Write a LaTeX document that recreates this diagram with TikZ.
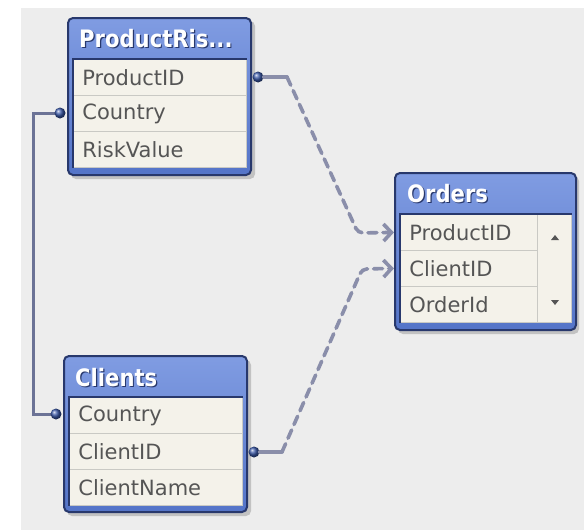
\documentclass[tikz,border=0pt]{standalone}
\usepackage{fontspec}
\setmainfont{DejaVu Sans}
\usepackage{graphicx}
\usetikzlibrary{arrows.meta}

\definecolor{hdrtop}{HTML}{809CE2}
\definecolor{hdrbot}{HTML}{5474C8}
\definecolor{frame}{HTML}{28386C}
\definecolor{rowbg}{HTML}{F4F2EA}
\definecolor{rowline}{HTML}{C9C9C4}
\definecolor{rowtext}{HTML}{555555}
\definecolor{link}{HTML}{8A8EAA}
\definecolor{join}{HTML}{6C7396}
\definecolor{dotblue}{HTML}{3A58A8}
\definecolor{canvas}{HTML}{EDEDED}

\newcommand{\hdrtxt}[1]{\scalebox{0.88}[1]{\makebox[0pt][l]{\hspace{1.4pt}\raisebox{-1.4pt}{\color{frame}#1}}#1}}

\tikzset{
  tblshadow/.style={fill=black,opacity=.18,rounded corners=5pt},
  tblframe/.style={draw=frame,line width=2pt,rounded corners=5pt,
                   top color=hdrtop,bottom color=hdrbot},
  hdr/.style={anchor=west,inner sep=0pt,text=white,
              font=\fontsize{24}{24}\selectfont\bfseries},
  row/.style={anchor=north west,draw=rowline,line width=.8pt,fill=rowbg,
              text=rowtext,inner xsep=9pt,inner ysep=0pt,
              minimum height=36pt,align=left,
              font=\fontsize{21}{21}\selectfont},
  dot/.style={circle,inner sep=0pt,minimum size=11pt,ball color=dotblue},
  link/.style={draw=link,line width=3.6pt,line cap=round},
  linkto/.style={link,dash pattern=on 9pt off 6pt,
                 -{Straight Barb[length=8pt,width=17pt]}},
}

\begin{document}
\begin{tikzpicture}[x=1pt,y=-1pt]
  \useasboundingbox (0,0) rectangle (584,530);
  \fill[white] (0,0) rectangle (584,530);
  \fill[canvas] (21,8) rectangle (584,530);

  % ProductRisk table
  \fill[tblshadow] (71,21) rectangle (255,179);
  \draw[tblframe] (68,18) rectangle (251,175);
  \node[hdr] (prh) at (79,39) {\hdrtxt{ProductRis...}};
  \node[row,text width=155pt] (pr1) at (73,59) {ProductID};
  \node[row,text width=155pt] (pr2) at (73,95) {Country};
  \node[row,text width=155pt] (pr3) at (73,131) {RiskValue};
  \draw[frame,line width=1.2pt] (pr3.south west) -- (pr1.north west) -- (pr1.north east);

  % Orders table
  \fill[tblshadow] (398,176) rectangle (579,334);
  \draw[tblframe] (395,173) rectangle (576,330);
  \node[hdr] (orh) at (407,194) {\hdrtxt{Orders}};
  \node[row,text width=119pt] (or1) at (400,214) {ProductID};
  \node[row,text width=119pt] (or2) at (400,250) {ClientID};
  \node[row,text width=119pt] (or3) at (400,286) {OrderId};
  \node[row,anchor=north west,minimum width=34pt,minimum height=108pt,
        text width=0pt,inner xsep=0pt] (orscr) at (537,214) {};
  \fill[rowtext] (551,240) -- (559,240) -- (555,235) -- cycle;
  \fill[rowtext] (551,300) -- (559,300) -- (555,305) -- cycle;
  \draw[frame,line width=1.2pt] (or3.south west) -- (or1.north west) -- (orscr.north east);

  % Clients table
  \fill[tblshadow] (67,360) rectangle (251,516);
  \draw[tblframe] (64,356) rectangle (247,512);
  \node[hdr] (clh) at (75,378) {\hdrtxt{Clients}};
  \node[row,text width=155pt] (cl1) at (69,397) {Country};
  \node[row,text width=155pt] (cl2) at (69,433) {ClientID};
  \node[row,text width=155pt] (cl3) at (69,469) {ClientName};
  \draw[frame,line width=1.2pt] (cl3.south west) -- (cl1.north west) -- (cl1.north east);

  % Country link
  \coordinate (prcty) at (60,113);
  \coordinate (clcty) at (56,414);
  \draw[draw=join,line width=3pt] (prcty) -- ++(-27,0) |- (clcty);

  % key dots
  \node[dot] (prpid) at (258,77) {};
  \node[dot] (prdot) at (prcty) {};
  \node[dot] (cldot) at (clcty) {};
  \node[dot] (clcid) at (254,452) {};

  % links to Orders
  \draw[link] (prpid) -- ++(29,0) coordinate (pbend);
  \coordinate (pknee) at (358,233);
  \draw[linkto,rounded corners=5pt] (pbend) -- (pknee) -- ([xshift=-6pt]or1.west);
  \draw[link] (clcid) -- ++(28,0) coordinate (cbend);
  \coordinate (cknee) at (362,269);
  \draw[linkto,rounded corners=5pt] (cbend) -- (cknee) -- ([xshift=-6pt]or2.west);
\end{tikzpicture}
\end{document}
